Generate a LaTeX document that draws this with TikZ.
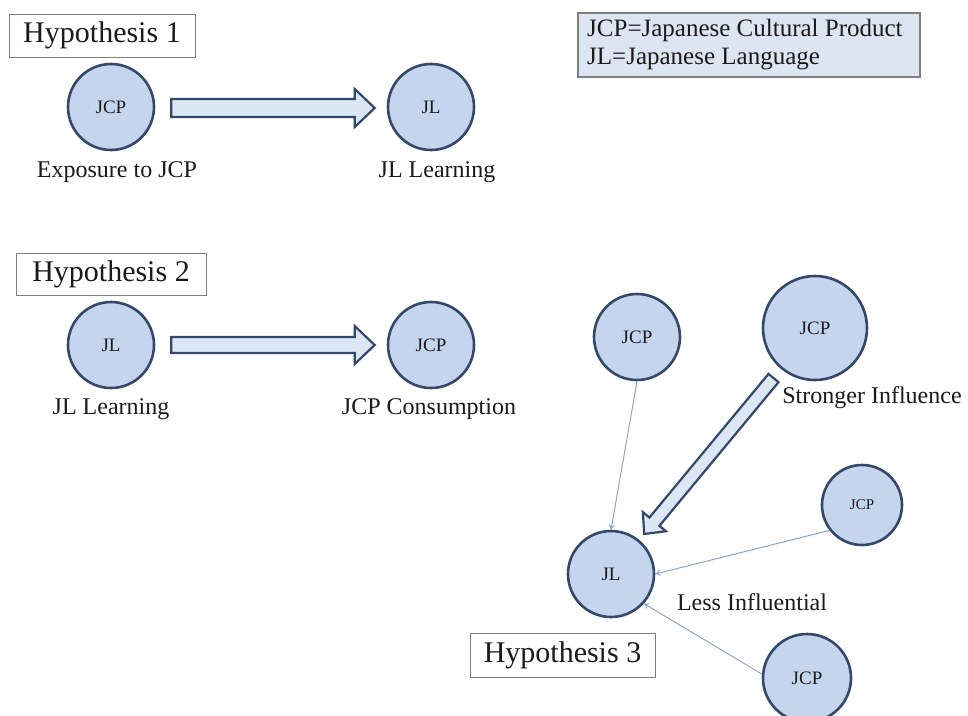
\documentclass[tikz,border=0pt]{standalone}
\usepackage{fontspec}
\setmainfont{Liberation Serif}
\usetikzlibrary{calc,arrows.meta}

\definecolor{circfill}{HTML}{C6D5EE}
\definecolor{circline}{HTML}{34496A}
\definecolor{arrfill}{HTML}{DCE6F4}
\definecolor{boxline}{HTML}{7F7F7F}
\definecolor{legfill}{HTML}{DDE4F2}
\definecolor{thinline}{HTML}{8BA6CD}
\definecolor{ink}{HTML}{1A1A1A}

% block arrow: tail, tip, shaft half width, head length, head half width
\newcommand{\blockarrow}[5]{%
  \draw[blockarrowstyle]
    ($(#1)!#3!90:(#2)$) --
    ($($(#2)!#4!(#1)$)!#3!90:(#2)$) --
    ($($(#2)!#4!(#1)$)!#5!90:(#2)$) --
    (#2) --
    ($($(#2)!#4!(#1)$)!#5!-90:(#2)$) --
    ($($(#2)!#4!(#1)$)!#3!-90:(#2)$) --
    ($(#1)!#3!-90:(#2)$) -- cycle;}

\tikzset{
  bubble/.style={circle, draw=circline, line width=2.6pt, fill=circfill,
    inner sep=0pt, text=ink, font=\fontsize{19}{22}\selectfont},
  hypbox/.style={draw=boxline, line width=1pt, fill=white, text=ink,
    inner sep=0pt, font=\fontsize{30}{34}\selectfont},
  caption/.style={text=ink, inner sep=0pt, font=\fontsize{24}{28}\selectfont},
  blockarrowstyle/.style={draw=circline, line width=2.2pt, fill=arrfill,
    line join=miter},
  thinarrow/.style={draw=thinline, line width=1pt,
    -{To[length=5pt,width=6pt]}},
}

\begin{document}
\begin{tikzpicture}[x=1pt,y=-1pt]
\useasboundingbox (0,0) rectangle (968,715);

% legend
\node[draw=boxline, line width=1.2pt, fill=legfill, minimum width=342pt,
  minimum height=64pt, inner sep=0pt] (legend) at (749,45) {};
\node[anchor=west, align=left, text=ink, inner sep=0pt,
  font=\fontsize{25}{28}\selectfont] (legtext) at (587,45)
  {JCP=Japanese Cultural Product\\JL=Japanese Language};

% Hypothesis 1
\node[hypbox, minimum width=186pt, minimum height=43pt] (hyp1) at (102,35.5) {Hypothesis 1};
\node[bubble, minimum size=86pt] (h1jcp) at (111,107) {JCP};
\node[bubble, minimum size=86pt] (h1jl) at (431,107) {JL};
\node[caption] (h1cap1) at (117,172) {Exposure to JCP};
\node[caption] (h1cap2) at (437,172) {JL Learning};
\coordinate (h1s) at ($(h1jcp.east)+(16,1)$);
\coordinate (h1e) at ($(h1jl.west)+(-12,1)$);
\blockarrow{h1s}{h1e}{9pt}{20pt}{19pt}

% Hypothesis 2
\node[hypbox, minimum width=190pt, minimum height=42pt] (hyp2) at (111,274) {Hypothesis 2};
\node[bubble, minimum size=86pt] (h2jl) at (111,345) {JL};
\node[bubble, minimum size=86pt] (h2jcp) at (431,345) {JCP};
\node[caption] (h2cap1) at (111,409) {JL Learning};
\node[caption] (h2cap2) at (429,409) {JCP Consumption};
\coordinate (h2s) at ($(h2jl.east)+(16,0)$);
\coordinate (h2e) at ($(h2jcp.west)+(-12,0)$);
\blockarrow{h2s}{h2e}{8pt}{20pt}{19pt}

% Hypothesis 3
\node[bubble, minimum size=86pt] (tjcp) at (637,337) {JCP};
\node[bubble, minimum size=104pt] (bigjcp) at (815,328) {JCP};
\node[bubble, minimum size=80pt, font=\fontsize{15}{17}\selectfont] (rjcp) at (862,505) {JCP};
\node[bubble, minimum size=86pt] (jl3) at (611,574) {JL};
\node[bubble, minimum size=88pt] (bjcp) at (807,678) {JCP};
\node[hypbox, minimum width=185pt, minimum height=44pt] (hyp3) at (562.5,655) {Hypothesis 3};
\node[caption] (strong) at (872,398) {Stronger Influence};
\node[caption] (less) at (752,602) {Less Influential};

\coordinate (h3s) at ($(bigjcp)!65pt!(jl3)$);
\coordinate (h3e) at ($(jl3)!52pt!(bigjcp)$);
\blockarrow{h3s}{h3e}{6.5pt}{16pt}{15pt}

\draw[thinarrow] (tjcp.south) -- (jl3.north);
\draw[thinarrow] (rjcp.218) -- (jl3.east);
\draw[thinarrow] (bjcp.175) -- (jl3.318);
\end{tikzpicture}
\end{document}
